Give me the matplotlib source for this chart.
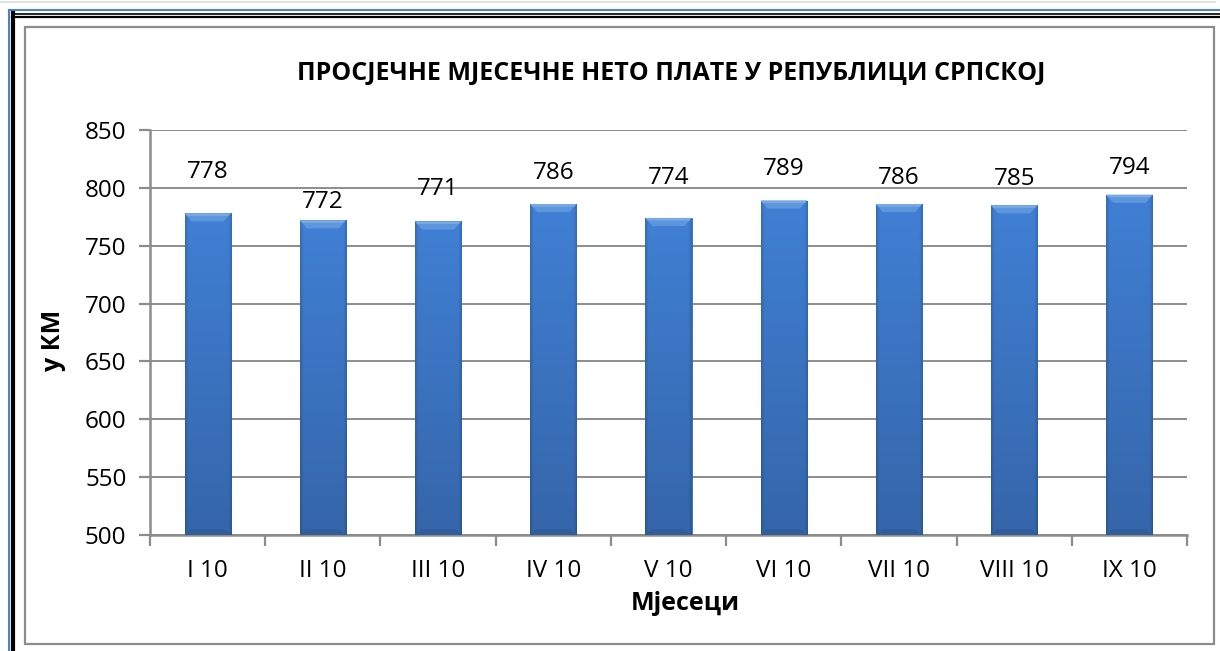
import matplotlib
matplotlib.use("Agg")
import matplotlib.pyplot as plt
import numpy as np
from matplotlib.lines import Line2D
from matplotlib.patches import Rectangle, Polygon

months = ["I 10", "II 10", "III 10", "IV 10", "V 10", "VI 10", "VII 10", "VIII 10", "IX 10"]
wages = [778, 772, 771, 786, 774, 789, 786, 785, 794]
label_y = [813.8, 788.0, 799.0, 812.9, 808.6, 816.4, 808.6, 807.7, 817.2]
title = "ПРОСЈЕЧНЕ МЈЕСЕЧНЕ НЕТО ПЛАТЕ У РЕПУБЛИЦИ СРПСКОЈ"
ylabel = "у КМ"
xlabel = "Мјесеци"

W, H = 1220, 651
plt.rcParams['font.family'] = ['Open Sans', 'DejaVu Sans']
fig = plt.figure(figsize=(W / 100, H / 100), dpi=100)

def fx(px):
    return px / W

def fy(py):
    return 1 - py / H

# outer frame decorations
fig.add_artist(Line2D([fx(0), fx(1215)], [fy(2), fy(2)], color="#dcdcdc", lw=1.2))
fig.add_artist(Line2D([fx(8.5), fx(8.5)], [fy(10), fy(651)], color="#4f81bd", lw=1.5))
fig.add_artist(Line2D([fx(8.5), fx(1220)], [fy(10), fy(10)], color="#4f81bd", lw=1.5))
fig.add_artist(Line2D([fx(13), fx(13)], [fy(13), fy(651)], color="black", lw=3.0))
fig.add_artist(Line2D([fx(12), fx(1220)], [fy(13.5), fy(13.5)], color="black", lw=1.2))
fig.add_artist(Line2D([fx(12), fx(1220)], [fy(16.5), fy(16.5)], color="black", lw=1.6))
fig.add_artist(Rectangle((fx(25), fy(644)), fx(1214) - fx(25), fy(27) - fy(644),
                         transform=fig.transFigure, fill=False, edgecolor="#8c8c8c", lw=1.6))

ax = fig.add_axes([fx(150), fy(535), fx(1187) - fx(150), fy(130) - fy(535)])
x = np.arange(len(months))
bw = 0.40
bars = ax.bar(x, wages, width=bw, color="#3b77c5", edgecolor="#3468ad", lw=0.6, zorder=3)

# bar shading image (vertical gradient, darker side edges)
ny, nx = 64, 46
t = np.linspace(0, 1, ny)[:, None]
top = np.array([0.25, 0.50, 0.83])
bot = np.array([0.21, 0.40, 0.67])
img = top[None, None, :] * (1 - t[..., None]) + bot[None, None, :] * t[..., None]
img = np.repeat(img, nx, axis=1)
u = np.linspace(0, 1, nx)
edge = 1 - 0.14 * np.clip(1 - np.minimum(u, 1 - u) / 0.07, 0, 1)
img = img * edge[None, :, None]

for xi, v, b in zip(x, wages, bars):
    im = ax.imshow(img, extent=(xi - bw / 2, xi + bw / 2, 500, v), aspect="auto",
                   zorder=4, interpolation="bilinear", origin="upper")
    im.set_clip_path(b)
    bev = 7.0
    ax.add_patch(Polygon([(xi - bw / 2, v), (xi + bw / 2, v), (xi + bw / 2 - 0.06, v - bev),
                          (xi - bw / 2 + 0.06, v - bev)], closed=True,
                         facecolor="#5d96dc", edgecolor="none", zorder=5))
    ax.add_patch(Polygon([(xi - bw / 2, v), (xi + bw / 2, v), (xi + bw / 2 - 0.02, v - 2.2),
                          (xi - bw / 2 + 0.02, v - 2.2)], closed=True,
                         facecolor="#79aae6", edgecolor="none", zorder=5))
    ax.add_patch(Polygon([(xi - bw / 2, 500), (xi + bw / 2, 500), (xi + bw / 2 - 0.05, 505),
                          (xi - bw / 2 + 0.05, 505)], closed=True,
                         facecolor="#305d9c", edgecolor="none", zorder=5))

for xi, ly, v in zip(x, label_y, wages):
    ax.text(xi, ly, f"{v}", ha="center", va="center", fontsize=17.5, color="black", zorder=6)

ax.set_xlim(-0.5, len(months) - 0.5)
ax.set_ylim(500, 850)
ax.set_yticks(np.arange(500, 851, 50))
ax.yaxis.grid(True, color="#8c8c8c", lw=1.4, zorder=0)
ax.set_axisbelow(True)
ax.set_xticks(x)
ax.set_xticklabels(months, fontsize=17.5)
ax.set_xticks(np.arange(-0.5, len(months)), minor=True)
ax.tick_params(axis="x", which="major", length=0, pad=17)
ax.tick_params(axis="x", which="minor", length=8, width=1.6, color="#8c8c8c")
ax.tick_params(axis="y", length=8, width=1.6, color="#8c8c8c", labelsize=17.5, pad=9)
for s in ["top", "right"]:
    ax.spines[s].set_visible(False)
for s in ["left", "bottom"]:
    ax.spines[s].set_color("#8c8c8c")
    ax.spines[s].set_linewidth(1.8)

fig.text(fx(671), fy(73), title, ha="center", va="center", fontsize=18, fontweight="bold")
fig.text(fx(53), fy(340), ylabel, ha="center", va="center", rotation=90, fontsize=18, fontweight="bold")
fig.text(fx(685), fy(603), xlabel, ha="center", va="center", fontsize=18, fontweight="bold")

fig.savefig("out.png", dpi=100)
